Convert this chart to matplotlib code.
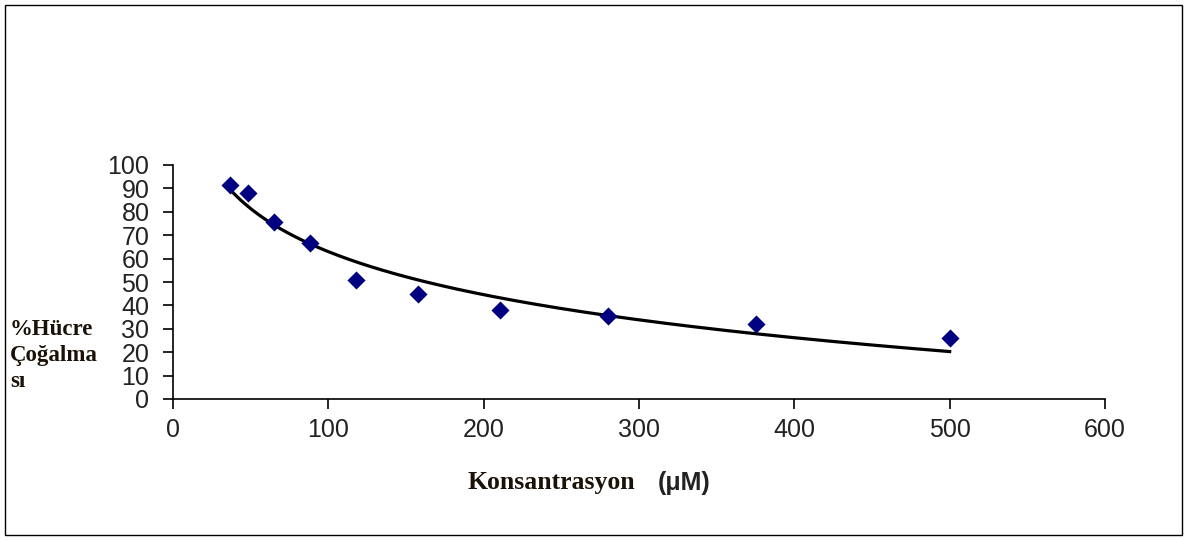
import numpy as np
import matplotlib
matplotlib.use("Agg")
from matplotlib import pyplot as plt
from matplotlib.patches import Rectangle

# values
konsantrasyon = [36.7, 48.3, 65, 88.2, 117.8, 157.7, 210.5, 280, 375.3, 500]
cogalma = [91.5, 88, 75.6, 66.7, 50.9, 44.9, 38.0, 35.4, 32.0, 26.1]
x_ticks = [0, 100, 200, 300, 400, 500, 600]
y_ticks = [0, 10, 20, 30, 40, 50, 60, 70, 80, 90, 100]
ylabel_lines = ["%Hücre", "Çoğalma", "sı"]

W, H = 1188, 540
fig = plt.figure(figsize=(W/100, H/100), dpi=100)
ax = fig.add_axes([173/W, 1-399/H, 932/W, 234/H])

ax.scatter(konsantrasyon, cogalma, marker='D', s=85, color='#000080', zorder=3, linewidths=0)

# logarithmic trend line (least squares like excel)
b, a = np.polyfit(np.log(konsantrasyon), cogalma, 1)
xs = np.linspace(min(konsantrasyon), max(konsantrasyon), 200)
ax.plot(xs, a + b*np.log(xs), color='black', lw=2.3, zorder=2)

ax.set_xlim(0, 600)
ax.set_ylim(0, 100)
ax.set_xticks(x_ticks)
ax.set_yticks(y_ticks)
for s in ['top', 'right']:
    ax.spines[s].set_visible(False)
ax.spines['left'].set_linewidth(1.2)
ax.spines['bottom'].set_linewidth(1.2)
ax.tick_params(length=7, width=1.2, labelsize=18, colors='black', labelcolor='#222222')
ax.tick_params(axis='y', pad=10)
ax.tick_params(axis='x', pad=7)
for lab in ax.get_xticklabels() + ax.get_yticklabels():
    lab.set_family('Liberation Sans')

for txt, ybase in zip(ylabel_lines, [335, 361, 387]):
    fig.text(10/W, 1-ybase/H, txt, family='Liberation Serif', weight='bold',
             fontsize=16.5, ha='left', va='baseline', color='#1a1208')
fig.text(468/W, 1-483/H, "Konsantrasyon", family='Liberation Serif', weight='bold',
         fontsize=18.5, ha='left', va='center', color='#1a1208')
fig.text(658/W, 1-483/H, "(μM)", family='Liberation Sans', weight='bold',
         fontsize=18, ha='left', va='center', color='#222222')

fig.patches.append(Rectangle((5/W, 5/H), 1177/W, 530/H, transform=fig.transFigure,
                             fill=False, edgecolor='black', lw=1))

fig.savefig("out.png", dpi=100)
